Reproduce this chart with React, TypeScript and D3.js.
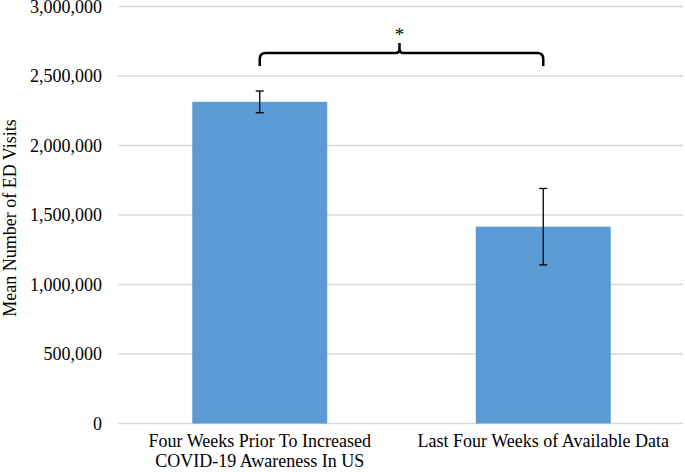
import React from "react";
import * as d3 from "d3";

const categories = [
  ["Four Weeks Prior To Increased", "COVID-19 Awareness In US"],
  ["Last Four Weeks of Available Data"],
];
const means = [2314000, 1416000];
const errors = [78000, 275000];
const yTicks = [0, 500000, 1000000, 1500000, 2000000, 2500000, 3000000];

const W = 685;
const H = 472;
const left = 118;
const right = 685;
const top = 6.5;
const bottom = 423.5;

export default function App() {
  const x = d3.scaleBand<number>().domain(categories.map((_, i) => i)).range([left, right]).padding(0);
  const y = d3.scaleLinear().domain([0, 3000000]).range([bottom, top]);
  const barW = x.bandwidth() * 0.476;
  const fmt = d3.format(",");
  const font = "'Liberation Serif', 'Times New Roman', serif";

  const cx0 = x(0)! + x.bandwidth() / 2;
  const cx1 = x(1)! + x.bandwidth() / 2;
  const bY = 53;
  const tipY = 66;
  const mid = (cx0 + cx1) / 2 - 2;
  const r = 6;
  const bracket = [
    `M${cx0},${tipY}`,
    `L${cx0},${bY + r}`,
    `Q${cx0},${bY} ${cx0 + r},${bY}`,
    `L${mid - 4},${bY}`,
    `Q${mid},${bY} ${mid},${bY - 4}`,
    `L${mid},${bY - 10}`,
    `M${mid},${bY - 4}`,
    `Q${mid},${bY} ${mid + 4},${bY}`,
    `L${cx1 - r},${bY}`,
    `Q${cx1},${bY} ${cx1},${bY + r}`,
    `L${cx1},${tipY}`,
  ].join(" ");

  return (
    <svg width={W} height={H} style={{ position: "absolute", left: 0, top: 0, background: "#fff" }} fontFamily={font}>
      {yTicks.map((t) => (
        <g key={t}>
          <line x1={left} x2={right - 2} y1={y(t)} y2={y(t)} stroke="#d9d9d9" strokeWidth={1.3} />
          <text x={102} y={y(t)} dy="0.36em" textAnchor="end" fontSize={18} fill="#000">
            {fmt(t)}
          </text>
        </g>
      ))}
      {means.map((m, i) => {
        const c = x(i)! + x.bandwidth() / 2;
        return (
          <g key={i}>
            <rect x={c - barW / 2} y={y(m)} width={barW} height={y(0) - y(m)} fill="#5b9bd5" />
            <line x1={c} x2={c} y1={y(m + errors[i])} y2={y(m - errors[i])} stroke="#000" strokeWidth={1.3} />
            <line x1={c - 4} x2={c + 4} y1={y(m + errors[i])} y2={y(m + errors[i])} stroke="#000" strokeWidth={1.3} />
            <line x1={c - 4} x2={c + 4} y1={y(m - errors[i])} y2={y(m - errors[i])} stroke="#000" strokeWidth={1.3} />
            {categories[i].map((line, j) => (
              <text key={j} x={c} y={447 + j * 20} textAnchor="middle" fontSize={18} fill="#000">
                {line}
              </text>
            ))}
          </g>
        );
      })}
      <path d={bracket} fill="none" stroke="#000" strokeWidth={2.5} strokeLinejoin="round" />
      <text x={mid} y={41} textAnchor="middle" fontSize={19} fill="#000">*</text>
      <text
        transform={`translate(16,${218}) rotate(-90)`}
        textAnchor="middle"
        fontSize={18}
        fill="#000"
      >
        Mean Number of ED Visits
      </text>
    </svg>
  );
}
